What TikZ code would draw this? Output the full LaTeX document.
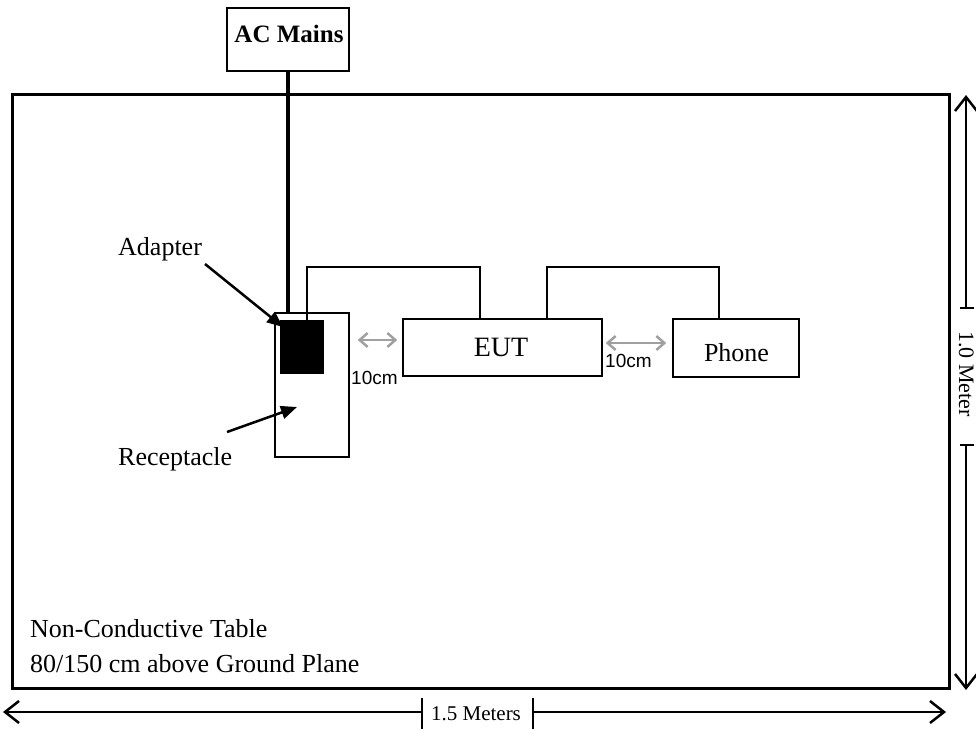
\documentclass[tikz,border=0pt]{standalone}
\usepackage{fontspec}
\setmainfont{Liberation Serif}
\newfontfamily\arialfont{Liberation Sans}
\usetikzlibrary{arrows.meta}
\begin{document}
\begin{tikzpicture}[x=1pt,y=-1pt,
  box/.style={draw=black,line width=1.5pt,inner sep=0pt,fill=white},
  tablebox/.style={draw=black,line width=3pt,inner sep=0pt},
  lbl/.style={inner sep=0pt,font=\fontsize{26}{30}\selectfont},
  cmlabel/.style={inner sep=0pt,font=\arialfont\fontsize{19}{22}\selectfont},
  cable/.style={line width=2pt},
  mains/.style={line width=4pt},
  pointer/.style={line width=2.5pt,-{Triangle[length=16pt,width=13pt]}},
  grayarrow/.style={draw={rgb,255:red,160;green,160;blue,160},line width=2.5pt,
     {Straight Barb[length=8pt,width=14pt]}-{Straight Barb[length=8pt,width=14pt]}},
  dimarrow/.style={line width=1.5pt,-{Straight Barb[length=14pt,width=22pt,line width=2.5pt]}},
  tick/.style={line width=1.5pt}
]
\useasboundingbox (0,0) rectangle (976,729);

% table
\node[tablebox,minimum width=937pt,minimum height=594pt] (table) at (480.5,391) {};

% AC mains
\node[box,minimum width=122pt,minimum height=63pt] (acmains) at (288,39.5) {};
\node[inner sep=0pt,font=\bfseries\fontsize{25}{30}\selectfont,anchor=base] (actext) at (289,42) {AC Mains};

% receptacle and adapter
\node[box,minimum width=74pt,minimum height=144pt] (recept) at (312,385) {};
\node[draw=black,fill=black,line width=1pt,inner sep=0pt,minimum width=43pt,minimum height=53pt] (adapter) at (301.5,346.5) {};

% EUT and phone
\node[box,minimum width=199pt,minimum height=57pt] (eut) at (502.5,347.5) {};
\node[inner sep=0pt,font=\fontsize{28}{32}\selectfont,anchor=base] (euttext) at (501,356) {EUT};
\node[box,minimum width=126pt,minimum height=58pt] (phone) at (736,348) {};
\node[inner sep=0pt,font=\fontsize{26}{30}\selectfont,anchor=base] (phonetext) at (736.5,361) {Phone};

% AC mains cord
\draw[mains] (acmains.south) -- (acmains.south |- recept.north);

% cables
\coordinate (k1) at (307,267);
\coordinate (k2) at (480,267);
\coordinate (k3) at (547,267);
\coordinate (k4) at (719,267);
\draw[cable] (adapter.north -| k1) -- (k1) -- (k2) -- (eut.north -| k2);
\draw[cable] (eut.north -| k3) -- (k3) -- (k4) -- (phone.north -| k4);

% spacing arrows
\coordinate (g1) at (0,340);
\coordinate (g2) at (0,343);
\draw[grayarrow,shorten <=8pt,shorten >=5pt] (recept.east |- g1) -- (eut.west |- g1);
\draw[grayarrow,shorten <=3pt,shorten >=6pt] (eut.east |- g2) -- (phone.west |- g2);
\node[cmlabel,anchor=base west] (cm1) at (351,384) {10cm};
\node[cmlabel,anchor=base west] (cm2) at (605,367) {10cm};

% labels with pointers
\node[lbl,anchor=base west] (adlab) at (118,255) {Adapter};
\node[lbl,anchor=base west] (reclab) at (118,465) {Receptacle};
\coordinate (p1s) at (205,264);
\coordinate (p1e) at (283,327);
\coordinate (p2s) at (227,432);
\coordinate (p2e) at (297,407);
\draw[pointer] (p1s) -- (p1e);
\draw[pointer] (p2s) -- (p2e);

% table caption
\node[lbl,anchor=base west] (cap1) at (30,637) {Non-Conductive Table};
\node[lbl,anchor=base west] (cap2) at (30,672) {80/150 cm above Ground Plane};

% horizontal dimension
\coordinate (hl) at (3,712);
\coordinate (hr) at (946,712);
\coordinate (ht1) at (422,712);
\coordinate (ht2) at (533,712);
\draw[tick] (ht1) ++(0,-14) -- ++(0,31);
\draw[tick] (ht2) ++(0,-14) -- ++(0,31);
\draw[dimarrow] (ht1) -- (hl);
\draw[dimarrow] (ht2) -- (hr);
\node[inner sep=0pt,font=\fontsize{21}{24}\selectfont,anchor=base] (hlab) at (476,720) {1.5 Meters};

% vertical dimension
\coordinate (vtop) at (966,95);
\coordinate (vbot) at (966,690);
\coordinate (vt1) at (966,308);
\coordinate (vt2) at (966,445);
\draw[tick] (vt1) ++(-6,0) -- ++(14,0);
\draw[tick] (vt2) ++(-6,0) -- ++(14,0);
\draw[dimarrow] (vt1) -- (vtop);
\draw[dimarrow] (vt2) -- (vbot);
\node[inner sep=0pt,font=\fontsize{22}{26}\selectfont,anchor=base,rotate=-90] (vlab) at (959,374) {1.0 Meter};
\end{tikzpicture}
\end{document}
